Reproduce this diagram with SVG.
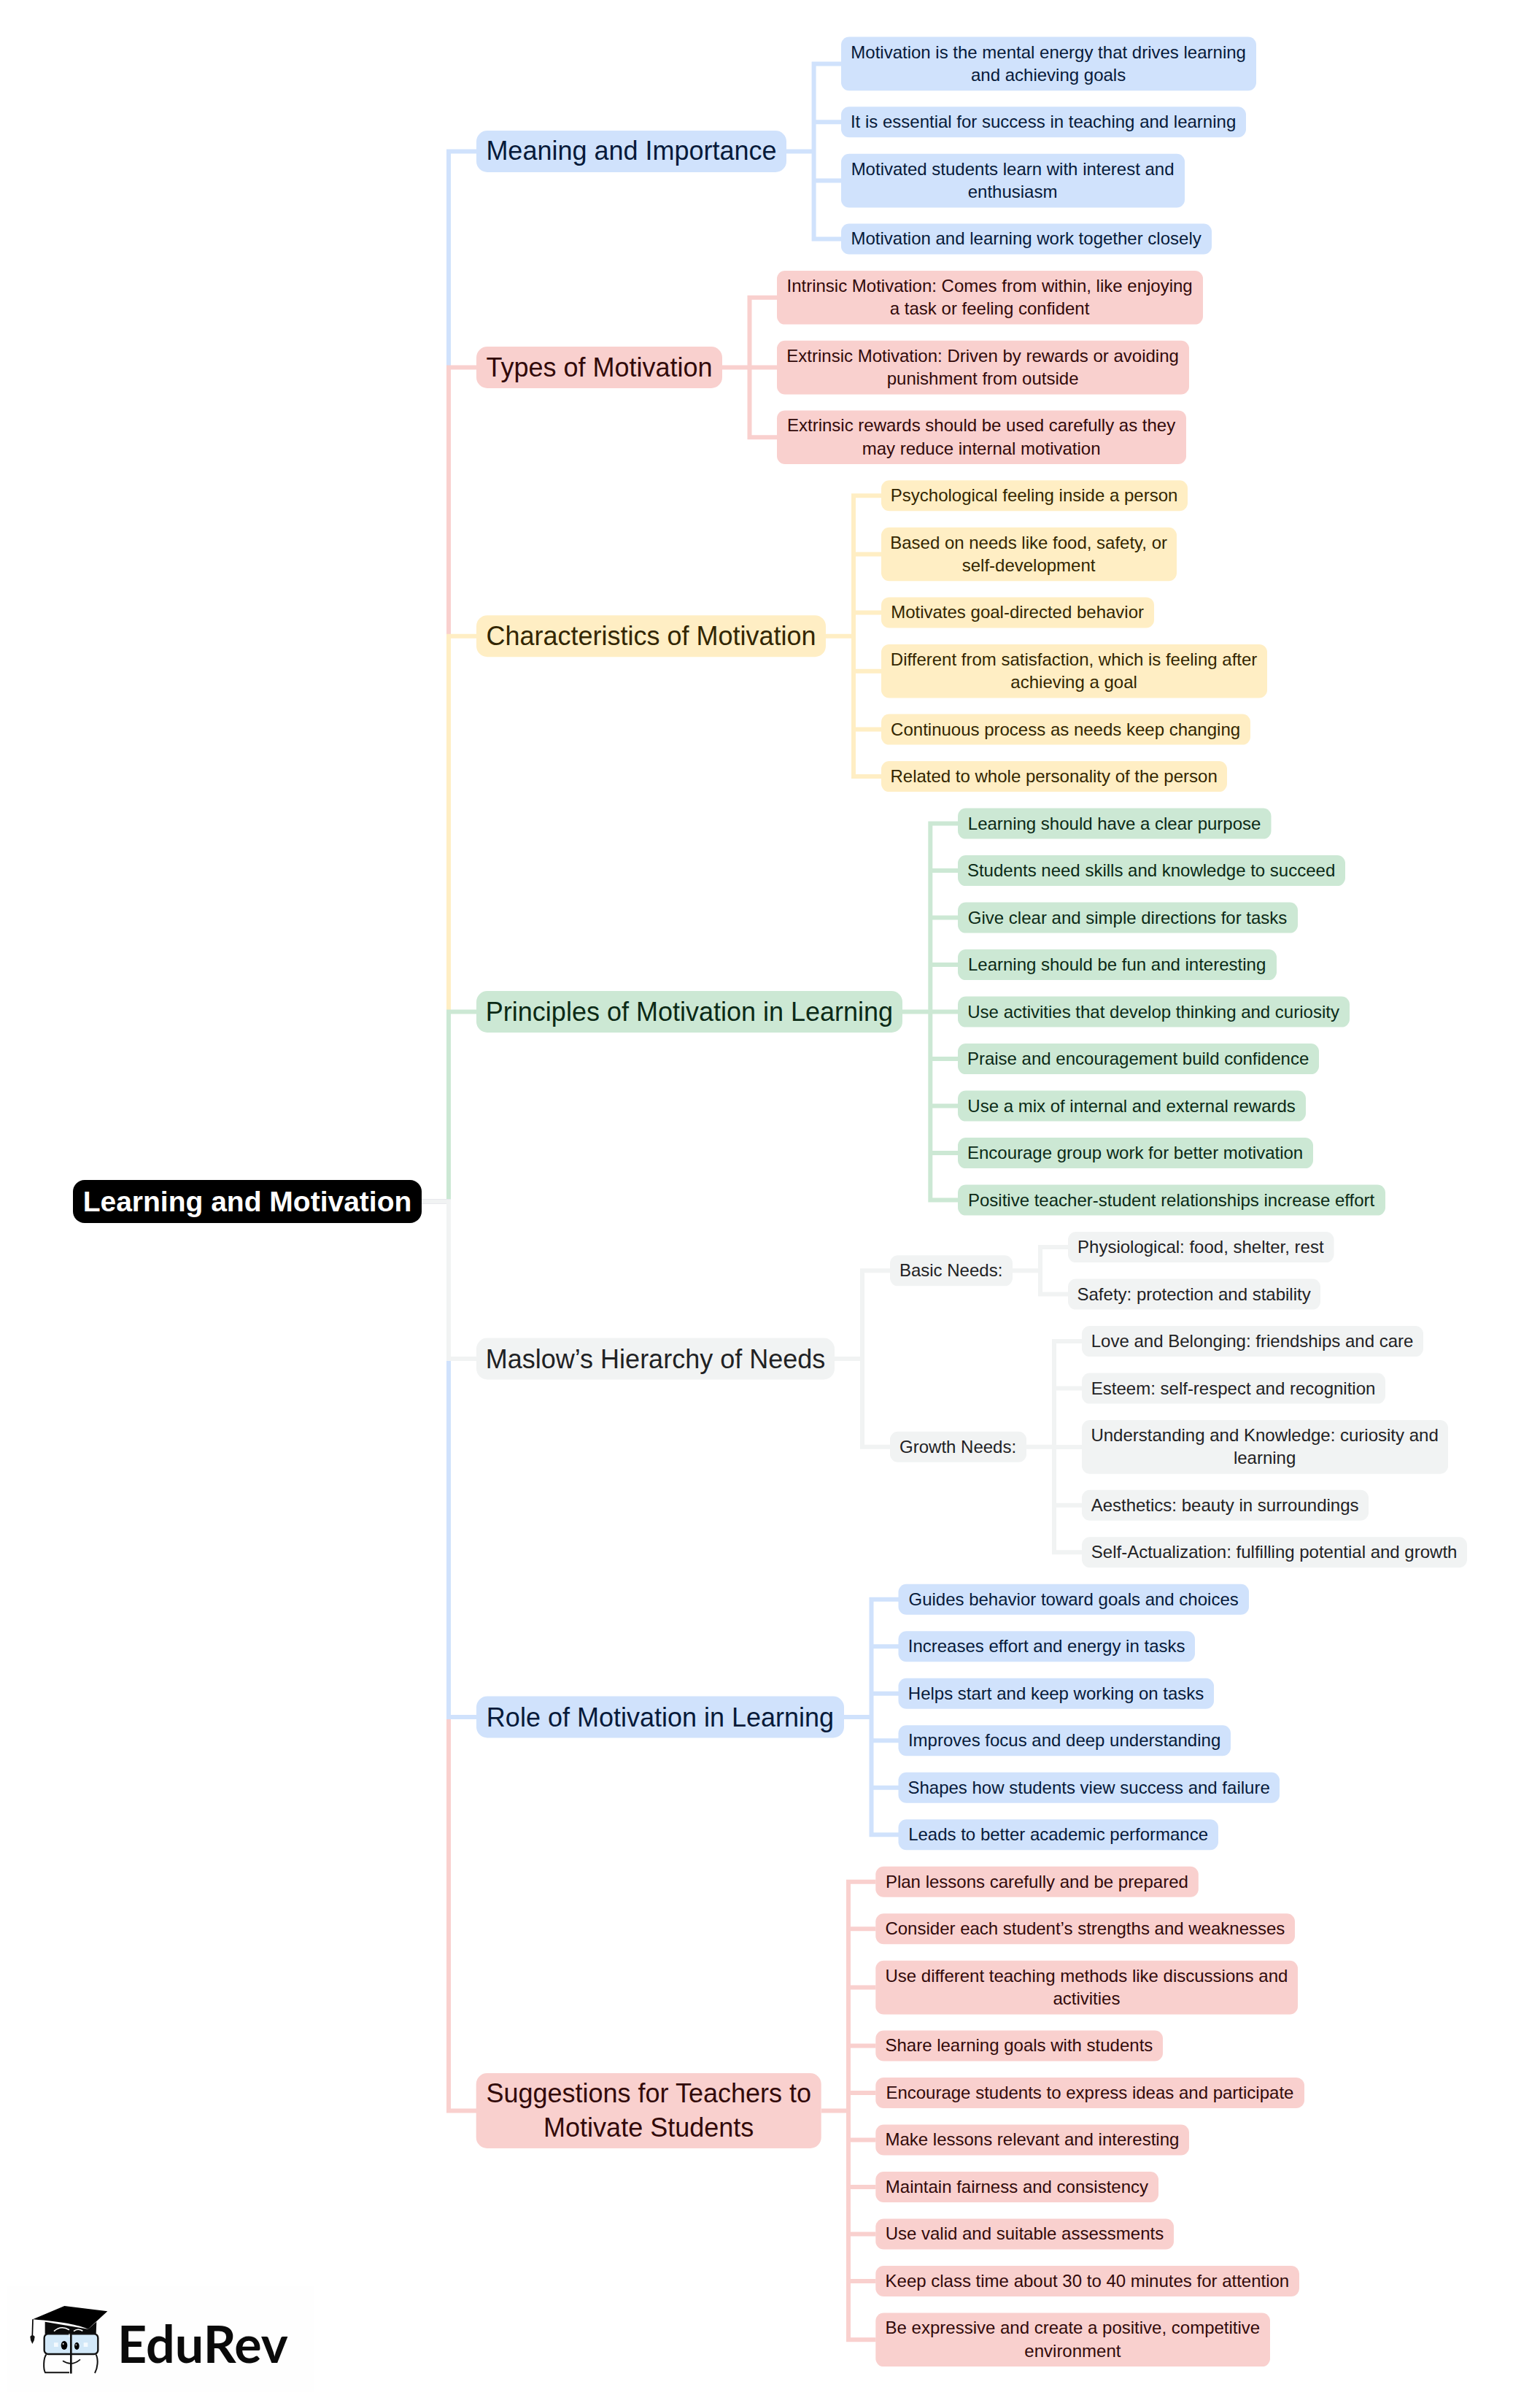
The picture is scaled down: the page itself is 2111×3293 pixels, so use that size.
<svg xmlns="http://www.w3.org/2000/svg" width="2111" height="3293" viewBox="0 0 2111 3293">
<style>
text{font-family:"Liberation Sans",Arial,sans-serif;text-anchor:middle}
.leaf text{font-size:24px;transform:translateX(-.4px)}
.cat text{font-size:36px}
.leaf rect{rx:11px;ry:11px}
.cat rect{rx:15px;ry:15px}
.blue rect{fill:#d0e2fc}.blue text{fill:#071a3a}
.pink rect{fill:#f9d0ce}.pink text{fill:#320a0a}
.yellow rect{fill:#ffeec4}.yellow text{fill:#332600}
.green rect{fill:#cce8d4}.green text{fill:#0b2a16}
.grey rect{fill:#f1f3f3}.grey text{fill:#1f2224}
#connectors path{fill:none;stroke-width:6;stroke-linejoin:miter}
.c-blue{stroke:#d0e2fc}.c-pink{stroke:#f9d0ce}.c-yellow{stroke:#ffeec4}.c-green{stroke:#cce8d4}.c-grey{stroke:#f1f3f3}
</style>
<rect width="2111" height="3293" fill="#ffffff"/>
<g id="connectors">
<path class="c-blue" d="M578 1646.500H615V207.500H653"/>
<path class="c-pink" d="M578 1646.500H615V503.600H653"/>
<path class="c-yellow" d="M578 1646.500H615V871.700H653"/>
<path class="c-green" d="M578 1646.500H615V1386.600H653"/>
<path class="c-pink" d="M578 1646.500H615V2892.500H653"/>
<path class="c-blue" d="M578 1646.500H615V2353H653"/>
<path class="c-grey" d="M578 1646.500H615V1862H653"/>
<path class="c-blue" d="M1078 207.500H1115.600M1153 87.400H1115.600V327.500H1153M1153 167.300H1115.600M1153 247.600H1115.600"/>
<path class="c-pink" d="M990 503.600H1027.500M1065 407.800H1027.500V599.200H1065M1065 503.600H1027.500"/>
<path class="c-yellow" d="M1132 871.700H1170M1208 679.200H1170V1064.100H1208M1208 759.500H1170M1208 839.400H1170M1208 919.700H1170M1208 999.600H1170"/>
<path class="c-green" d="M1237 1386.600H1275.300M1313 1128.600H1275.300V1644.600H1313M1313 1193.100H1275.300M1313 1257.600H1275.300M1313 1322.100H1275.300M1313 1386.600H1275.300M1313 1451.100H1275.300M1313 1515.600H1275.300M1313 1580.100H1275.300"/>
<path class="c-grey" d="M1144 1862H1182M1220 1741.350H1182V1982.700H1220"/>
<path class="c-grey" d="M1388 1741.350H1426M1464 1709.100H1426V1773.600H1464"/>
<path class="c-grey" d="M1407 1982.700H1445M1483 1838.100H1445V2127.300H1483M1483 1902.600H1445M1483 1982.900H1445M1483 2062.800H1445"/>
<path class="c-blue" d="M1157 2353H1194.500M1232 2191.800H1194.500V2514.300H1232M1232 2256.300H1194.500M1232 2320.800H1194.500M1232 2385.300H1194.500M1232 2449.800H1194.500"/>
<path class="c-pink" d="M1126 2892.500H1163M1200.500 2578.800H1163V3206.300H1200.500M1200.500 2643.300H1163M1200.500 2723.600H1163M1200.500 2803.500H1163M1200.500 2868H1163M1200.500 2932.500H1163M1200.500 2997H1163M1200.500 3061.500H1163M1200.500 3126H1163"/>
</g>
<g id="root"><rect x="100" y="1617" width="478" height="59" rx="16" ry="16" fill="#000"/><text x="339" y="1660" fill="#fff" font-size="39" font-weight="700">Learning and Motivation</text></g>

<g id="cat-meaning" class="cat blue"><rect x="653" y="179" width="425" height="57"/><text x="865.500" y="219.300">Meaning and Importance</text></g>
<g id="m1" class="leaf blue"><rect x="1153" y="50.600" width="569" height="73.600"/><text x="1437.500" y="79.500">Motivation is the mental energy that drives learning</text><text x="1437.500" y="110.600">and achieving goals</text></g>
<g id="m2" class="leaf blue"><rect x="1153" y="146.300" width="555" height="42"/><text x="1430.500" y="175.200">It is essential for success in teaching and learning</text></g>
<g id="m3" class="leaf blue"><rect x="1153" y="210.800" width="471" height="73.600"/><text x="1388.500" y="239.700">Motivated students learn with interest and</text><text x="1388.500" y="270.800">enthusiasm</text></g>
<g id="m4" class="leaf blue"><rect x="1153" y="306.500" width="508" height="42"/><text x="1407" y="335.400">Motivation and learning work together closely</text></g>

<g id="cat-types" class="cat pink"><rect x="653" y="475" width="337" height="57"/><text x="821.500" y="515.500">Types of Motivation</text></g>
<g id="t1" class="leaf pink"><rect x="1065" y="371" width="584" height="73.600"/><text x="1357" y="400">Intrinsic Motivation: Comes from within, like enjoying</text><text x="1357" y="431">a task or feeling confident</text></g>
<g id="t2" class="leaf pink"><rect x="1065" y="466.800" width="565" height="73.600"/><text x="1347.500" y="495.800">Extrinsic Motivation: Driven by rewards or avoiding</text><text x="1347.500" y="526.800">punishment from outside</text></g>
<g id="t3" class="leaf pink"><rect x="1065" y="562.400" width="561" height="73.600"/><text x="1345.500" y="591.400">Extrinsic rewards should be used carefully as they</text><text x="1345.500" y="622.600">may reduce internal motivation</text></g>

<g id="cat-char" class="cat yellow"><rect x="653" y="843.200" width="479" height="57"/><text x="892.500" y="884.200">Characteristics of Motivation</text></g>
<g id="c1" class="leaf yellow"><rect x="1208" y="658.200" width="420" height="42"/><text x="1418" y="687.100">Psychological feeling inside a person</text></g>
<g id="c2" class="leaf yellow"><rect x="1208" y="722.700" width="405" height="73.600"/><text x="1410.500" y="751.600">Based on needs like food, safety, or</text><text x="1410.500" y="782.700">self-development</text></g>
<g id="c3" class="leaf yellow"><rect x="1208" y="818.400" width="374" height="42"/><text x="1395" y="847.300">Motivates goal-directed behavior</text></g>
<g id="c4" class="leaf yellow"><rect x="1208" y="882.900" width="529" height="73.600"/><text x="1472.500" y="911.800">Different from satisfaction, which is feeling after</text><text x="1472.500" y="942.900">achieving a goal</text></g>
<g id="c5" class="leaf yellow"><rect x="1208" y="978.600" width="506" height="42"/><text x="1461" y="1007.500">Continuous process as needs keep changing</text></g>
<g id="c6" class="leaf yellow"><rect x="1208" y="1043.100" width="474" height="42"/><text x="1445" y="1072">Related to whole personality of the person</text></g>

<g id="cat-principles" class="cat green"><rect x="653" y="1358" width="584" height="57"/><text x="945" y="1399">Principles of Motivation in Learning</text></g>
<g id="p1" class="leaf green"><rect x="1313" y="1107.600" width="429.500" height="42"/><text x="1528" y="1136.500">Learning should have a clear purpose</text></g>
<g id="p2" class="leaf green"><rect x="1313" y="1172.100" width="531" height="42"/><text x="1578.500" y="1201">Students need skills and knowledge to succeed</text></g>
<g id="p3" class="leaf green"><rect x="1313" y="1236.600" width="466" height="42"/><text x="1546" y="1265.500">Give clear and simple directions for tasks</text></g>
<g id="p4" class="leaf green"><rect x="1313" y="1301.100" width="437" height="42"/><text x="1531.500" y="1330">Learning should be fun and interesting</text></g>
<g id="p5" class="leaf green"><rect x="1313" y="1365.600" width="537" height="42"/><text x="1581.500" y="1394.500">Use activities that develop thinking and curiosity</text></g>
<g id="p6" class="leaf green"><rect x="1313" y="1430.100" width="495" height="42"/><text x="1560.500" y="1459">Praise and encouragement build confidence</text></g>
<g id="p7" class="leaf green"><rect x="1313" y="1494.600" width="477" height="42"/><text x="1551.500" y="1523.500">Use a mix of internal and external rewards</text></g>
<g id="p8" class="leaf green"><rect x="1313" y="1559.100" width="487" height="42"/><text x="1556.500" y="1588">Encourage group work for better motivation</text></g>
<g id="p9" class="leaf green"><rect x="1313" y="1623.600" width="586" height="42"/><text x="1606" y="1652.500">Positive teacher-student relationships increase effort</text></g>

<g id="cat-maslow" class="cat grey"><rect x="653" y="1833.500" width="491" height="57"/><text x="898.500" y="1874.500">Maslow’s Hierarchy of Needs</text></g>
<g id="basic" class="leaf grey"><rect x="1220" y="1720.350" width="168" height="42"/><text x="1304" y="1749.200">Basic Needs:</text></g>
<g id="growth" class="leaf grey"><rect x="1220" y="1961.700" width="187" height="42"/><text x="1313.500" y="1990.600">Growth Needs:</text></g>
<g id="b1" class="leaf grey"><rect x="1464" y="1688.100" width="364.500" height="42"/><text x="1646.200" y="1717">Physiological: food, shelter, rest</text></g>
<g id="b2" class="leaf grey"><rect x="1464" y="1752.600" width="346" height="42"/><text x="1637" y="1781.500">Safety: protection and stability</text></g>
<g id="g1" class="leaf grey"><rect x="1483" y="1817.100" width="468" height="42"/><text x="1717" y="1846">Love and Belonging: friendships and care</text></g>
<g id="g2" class="leaf grey"><rect x="1483" y="1881.600" width="416" height="42"/><text x="1691" y="1910.500">Esteem: self-respect and recognition</text></g>
<g id="g3" class="leaf grey"><rect x="1483" y="1946.100" width="502" height="73.600"/><text x="1734" y="1975">Understanding and Knowledge: curiosity and</text><text x="1734" y="2006.100">learning</text></g>
<g id="g4" class="leaf grey"><rect x="1483" y="2041.800" width="393" height="42"/><text x="1679.500" y="2070.700">Aesthetics: beauty in surroundings</text></g>
<g id="g5" class="leaf grey"><rect x="1483" y="2106.300" width="528" height="42"/><text x="1747" y="2135.200">Self-Actualization: fulfilling potential and growth</text></g>

<g id="cat-role" class="cat blue"><rect x="653" y="2324.500" width="504" height="57"/><text x="905" y="2365.500">Role of Motivation in Learning</text></g>
<g id="r1" class="leaf blue"><rect x="1231.500" y="2170.800" width="480.500" height="42"/><text x="1472" y="2199.700">Guides behavior toward goals and choices</text></g>
<g id="r2" class="leaf blue"><rect x="1231.500" y="2235.300" width="406.500" height="42"/><text x="1435" y="2264.200">Increases effort and energy in tasks</text></g>
<g id="r3" class="leaf blue"><rect x="1231.500" y="2299.800" width="432.500" height="42"/><text x="1448" y="2328.700">Helps start and keep working on tasks</text></g>
<g id="r4" class="leaf blue"><rect x="1231.500" y="2364.300" width="455.500" height="42"/><text x="1459.500" y="2393.200">Improves focus and deep understanding</text></g>
<g id="r5" class="leaf blue"><rect x="1231.500" y="2428.800" width="522.500" height="42"/><text x="1493" y="2457.700">Shapes how students view success and failure</text></g>
<g id="r6" class="leaf blue"><rect x="1231.500" y="2493.300" width="438.500" height="42"/><text x="1451" y="2522.200">Leads to better academic performance</text></g>

<g id="cat-suggest" class="cat pink"><rect x="652.700" y="2841" width="473" height="103"/><text x="889.200" y="2880.700">Suggestions for Teachers to</text><text x="889.200" y="2927.500">Motivate Students</text></g>
<g id="s1" class="leaf pink"><rect x="1200.300" y="2557.800" width="442.500" height="42"/><text x="1421.800" y="2586.900">Plan lessons carefully and be prepared</text></g>
<g id="s2" class="leaf pink"><rect x="1200.300" y="2622.300" width="574.700" height="42"/><text x="1487.800" y="2651.200">Consider each student’s strengths and weaknesses</text></g>
<g id="s3" class="leaf pink"><rect x="1200.300" y="2686.800" width="578.700" height="73.600"/><text x="1489.800" y="2715.700">Use different teaching methods like discussions and</text><text x="1489.800" y="2746.800">activities</text></g>
<g id="s4" class="leaf pink"><rect x="1200.300" y="2782.500" width="393.700" height="42"/><text x="1397.300" y="2811.400">Share learning goals with students</text></g>
<g id="s5" class="leaf pink"><rect x="1200.300" y="2847" width="587.700" height="42"/><text x="1494.300" y="2875.900">Encourage students to express ideas and participate</text></g>
<g id="s6" class="leaf pink"><rect x="1200.300" y="2911.500" width="429.700" height="42"/><text x="1415.300" y="2940.400">Make lessons relevant and interesting</text></g>
<g id="s7" class="leaf pink"><rect x="1200.300" y="2976" width="387.700" height="42"/><text x="1394.300" y="3004.900">Maintain fairness and consistency</text></g>
<g id="s8" class="leaf pink"><rect x="1200.300" y="3040.500" width="408.700" height="42"/><text x="1404.800" y="3069.400">Use valid and suitable assessments</text></g>
<g id="s9" class="leaf pink"><rect x="1200.300" y="3105" width="580.700" height="42"/><text x="1490.800" y="3133.900">Keep class time about 30 to 40 minutes for attention</text></g>
<g id="s10" class="leaf pink"><rect x="1200.300" y="3169.500" width="540.700" height="73.600"/><text x="1470.800" y="3198.200">Be expressive and create a positive, competitive</text><text x="1470.800" y="3229.500">environment</text></g>

<g id="logo">
<rect x="10" y="3132" width="420" height="146" fill="#fefefe"/>
<g transform="translate(0 3080) scale(.3333)">
<path d="M185 305V356H395L397 305L362 335Z" fill="#0a0a0a"/>
<path d="M222 344Q250 318 285 338M303 344Q320 330 340 343" fill="none" stroke="#fff" stroke-width="5"/>
<path d="M135 295L265 240L442 262L362 335C320 318 260 305 135 295Z" fill="#000"/>
<path d="M135 295L133 362" stroke="#000" stroke-width="5" fill="none"/>
<path d="M124 366Q133 354 143 366Q143 382 133 396Q124 382 124 366Z" fill="#111"/>
<rect x="182" y="355" width="221" height="83" rx="16" fill="#d2e8f8" stroke="#111" stroke-width="7"/>
<path d="M190 440C178 455 178 500 186 514H285M395 440C405 460 402 495 390 516" fill="none" stroke="#111" stroke-width="6"/>
<path d="M292 354V518" stroke="#111" stroke-width="8"/>
<path d="M285 354V368" stroke="#fff" stroke-width="3"/>
<ellipse cx="264" cy="402" rx="13" ry="18" fill="#000"/><ellipse cx="316" cy="405" rx="10" ry="15" fill="#000"/>
<circle cx="260" cy="396" r="3" fill="#fff"/><circle cx="313" cy="400" r="2.500" fill="#fff"/>
<path d="M222 391h17v17h-17zM344 391h17v17h-17z" fill="#f4fafe"/>
<path d="M258 466Q295 490 330 460" fill="none" stroke="#111" stroke-width="5"/>
</g>
<text x="161" y="3238" font-size="70" font-weight="700" fill="#0a0a0a" style="font-family:Lato,'Liberation Sans',sans-serif;text-anchor:start">EduRev</text>
</g>
</svg>
